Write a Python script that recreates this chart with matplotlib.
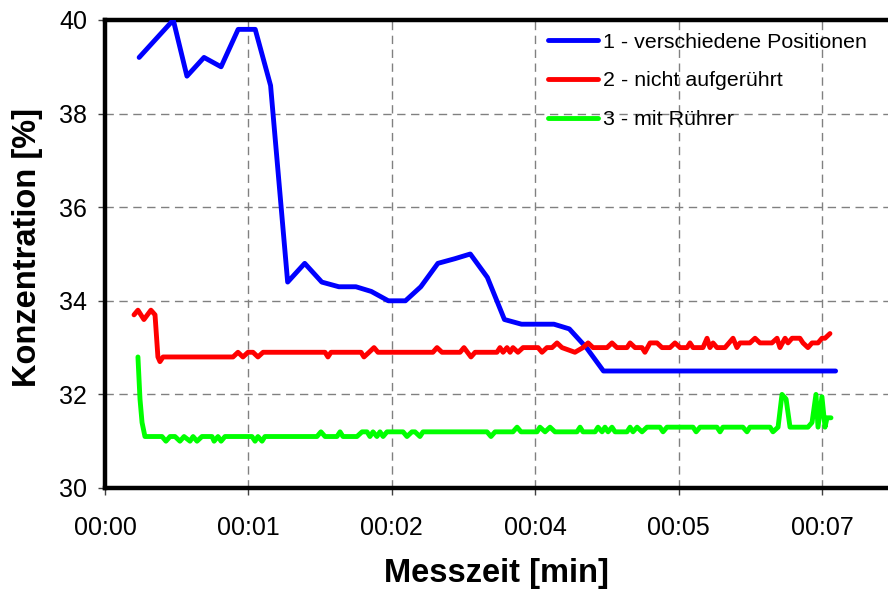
import matplotlib
matplotlib.use("Agg")
import matplotlib.pyplot as plt

plt.rcParams['font.family'] = ['Liberation Sans', 'DejaVu Sans']

# ---- data (time in seconds, concentration in %) ----
blue_t = [20, 30, 40, 48, 58, 68, 78, 88, 97, 107, 117, 127, 137, 147, 156, 166, 176,
          185, 195, 205, 214, 224, 234, 244, 253, 263, 272, 282, 292, 428]
blue_v = [39.2, 39.6, 40.0, 38.8, 39.2, 39.0, 39.8, 39.8, 38.6, 34.4, 34.8, 34.4, 34.3,
          34.3, 34.2, 34.0, 34.0, 34.3, 34.8, 34.9, 35.0, 34.5, 33.6, 33.5, 33.5, 33.5,
          33.4, 33.0, 32.5, 32.5]

red_t = [17.0, 19.3, 22.8, 26.9, 29.3, 31.0, 32.2, 34.0, 75.0, 77.9, 80.8, 83.8, 86.7,
         89.6, 92.6, 128.9, 130.6, 132.4, 150.0, 151.7, 154.7, 157.6, 159.9, 192.1,
         194.5, 197.4, 208.0, 210.3, 214.4, 216.8, 229.6, 231.4, 233.2, 235.5, 237.3,
         239.0, 241.9, 244.9, 253.7, 256.0, 258.9, 261.9, 264.8, 267.7, 275.3, 280.0,
         283.0, 285.9, 294.1, 297.0, 299.9, 305.8, 307.6, 310.5, 314.6, 316.3, 319.3,
         323.4, 326.3, 331.0, 333.9, 336.9, 341.0, 342.7, 344.5, 350.3, 352.7, 354.4,
         356.2, 358.5, 363.2, 367.9, 370.2, 372.0, 377.8, 380.8, 383.7, 390.7, 393.7,
         395.4, 398.4, 400.1, 402.5, 407.1, 408.9, 411.8, 414.2, 417.7, 420.0, 421.8,
         424.7]
red_v = [33.7, 33.8, 33.6, 33.8, 33.7, 32.8, 32.7, 32.8, 32.8, 32.9, 32.8, 32.9, 32.9,
         32.8, 32.9, 32.9, 32.8, 32.9, 32.9, 32.8, 32.9, 33.0, 32.9, 32.9,
         33.0, 32.9, 32.9, 33.0, 32.8, 32.9, 32.9, 33.0, 32.9, 33.0, 32.9,
         33.0, 32.9, 33.0, 33.0, 32.9, 33.0, 33.0, 33.1, 33.0, 32.9, 33.0,
         33.1, 33.0, 33.0, 33.1, 33.0, 33.0, 33.1, 33.0, 33.0, 32.9, 33.1,
         33.1, 33.0, 33.0, 33.1, 33.0, 33.0, 33.1, 33.0, 33.0, 33.2, 33.0,
         33.1, 33.0, 33.0, 33.2, 33.0, 33.1, 33.1, 33.2, 33.1, 33.1, 33.2,
         33.0, 33.2, 33.1, 33.2, 33.2, 33.1, 33.0, 33.1, 33.1, 33.2, 33.2,
         33.3]

green_t = [19.3, 20.5, 21.7, 23.4, 33.4, 35.7, 38.1, 41.0, 43.9, 46.3, 49.8, 51.6, 53.9,
           56.8, 62.7, 63.9, 66.2, 68.0, 70.3, 86.1, 87.9, 89.6, 92.0, 93.7, 124.2,
           126.5, 128.9, 135.9, 137.7, 139.4, 147.6, 150.6, 153.5, 155.2, 157.0, 159.3,
           161.1, 162.9, 165.2, 174.6, 176.9, 179.8, 181.6, 184.5, 186.3, 223.8, 226.1,
           228.5, 239.0, 241.4, 243.7, 253.1, 254.8, 257.8, 260.7, 263.6, 276.5, 278.3,
           280.0, 287.1, 288.8, 291.2, 292.9, 294.7, 297.0, 298.8, 305.8, 307.6, 309.3,
           311.7, 314.6, 317.5, 325.1, 326.9, 329.2, 344.5, 346.3, 348.6, 358.5, 360.3,
           362.0, 373.7, 376.1, 377.8, 389.6, 391.3, 394.3, 396.6, 399.0, 401.3, 411.8,
           414.2, 416.5, 417.7, 420.0, 421.8, 423.0, 425.3]
green_v = [32.8, 31.9, 31.4, 31.1, 31.1, 31.0, 31.1, 31.1, 31.0, 31.1, 31.0, 31.1, 31.0,
           31.1, 31.1, 31.0, 31.1, 31.0, 31.1, 31.1, 31.0, 31.1, 31.0, 31.1, 31.1,
           31.2, 31.1, 31.1, 31.2, 31.1, 31.1, 31.2, 31.2, 31.1, 31.2, 31.1,
           31.2, 31.1, 31.2, 31.2, 31.1, 31.2, 31.2, 31.1, 31.2, 31.2, 31.1,
           31.2, 31.2, 31.3, 31.2, 31.2, 31.3, 31.2, 31.3, 31.2, 31.2, 31.3,
           31.2, 31.2, 31.3, 31.2, 31.3, 31.2, 31.3, 31.2, 31.2, 31.3, 31.2,
           31.3, 31.2, 31.3, 31.3, 31.2, 31.3, 31.3, 31.2, 31.3, 31.3, 31.2,
           31.3, 31.3, 31.2, 31.3, 31.3, 31.2, 31.3, 32.0, 31.9, 31.3, 31.3,
           31.4, 32.0, 31.3, 31.95, 31.3, 31.5, 31.5]

series_labels = ["1 - verschiedene Positionen", "2 - nicht aufgerührt", "3 - mit Rührer"]
series_colors = ["#0000FF", "#FF0000", "#00FF00"]

x_ticks_s = [0, 84, 168, 252, 336, 420]
x_tick_labels = ["00:00", "00:01", "00:02", "00:04", "00:05", "00:07"]
y_ticks = [30, 32, 34, 36, 38, 40]

# ---- figure ----
fig = plt.figure(figsize=(8.88, 5.90), dpi=100)
ax = fig.add_axes([105/888, 1 - 488/590, (888 - 105)/888, (488 - 20)/590])

for t, v, lab, col in zip([blue_t, red_t, green_t], [blue_v, red_v, green_v],
                          series_labels, series_colors):
    ax.plot(t, v, color=col, lw=3.5, label=lab, solid_joinstyle='round',
            solid_capstyle='round', zorder=3)

ax.set_xlim(0, 458.7)
ax.set_ylim(30, 40)
ax.set_xticks(x_ticks_s)
ax.set_xticklabels(x_tick_labels)
ax.set_yticks(y_ticks)

ax.grid(True, color='#808080', linestyle=(0, (6, 4)), linewidth=1.0, zorder=1)

for s in ['left', 'bottom', 'top']:
    ax.spines[s].set_linewidth(3.2)
    ax.spines[s].set_color('black')
ax.spines['right'].set_visible(False)

ax.tick_params(axis='both', direction='out', length=5, width=1, color='#404040',
               labelsize=18, labelcolor='black')
ax.tick_params(axis='x', pad=15)
ax.tick_params(axis='y', pad=8)

ax.set_xlabel("Messzeit [min]", fontsize=23.5, fontweight='bold', labelpad=13)
ax.set_ylabel("Konzentration [%]", fontsize=23.5, fontweight='bold')
ax.yaxis.set_label_coords(-0.079, 0.513)

leg = ax.legend(loc='upper left', bbox_to_anchor=(0.566, 0.973), frameon=False,
                fontsize=15.4, handlelength=2.35, handletextpad=0.2, labelspacing=0.92,
                borderpad=0, borderaxespad=0)
for h in leg.get_lines():
    h.set_linewidth(3.5)

fig.savefig("out.png", dpi=100)
